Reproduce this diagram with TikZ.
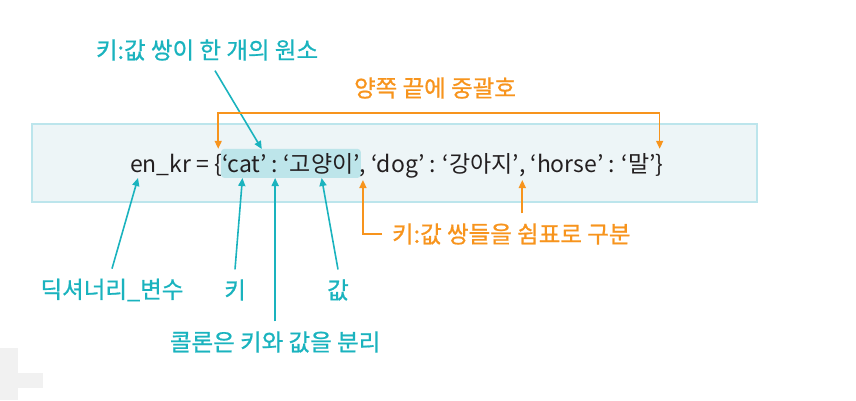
\documentclass[tikz,border=0pt]{standalone}
\usepackage{fontspec}
\setmainfont{Noto Sans CJK KR}
\newfontfamily\labelfont[FakeBold=0.8]{Noto Sans CJK KR}
\usepackage{xcolor}
\usetikzlibrary{arrows.meta, positioning, fit, backgrounds, calc}

\definecolor{tealink}{HTML}{1AB3BE}
\definecolor{orangeink}{HTML}{F7941D}
\definecolor{codeink}{HTML}{231F20}
\definecolor{boxfill}{HTML}{EDF5F7}
\definecolor{boxline}{HTML}{BCE5EC}
\definecolor{pairfill}{HTML}{BDE5EA}
\definecolor{crossgray}{HTML}{F1F1F1}

\begin{document}
\begin{tikzpicture}[
  x=1pt, y=-1pt,
  node distance=0pt,
  code/.style={inner sep=0pt, outer sep=0pt, text=codeink,
               font=\fontsize{23}{27}\selectfont},
  tealtxt/.style={text=tealink, font=\labelfont\fontsize{23.5}{28}\selectfont,
               inner sep=2pt, outer sep=8pt},
  orangetxt/.style={text=orangeink, font=\labelfont\fontsize{23.5}{28}\selectfont,
               inner sep=2pt, outer sep=8pt},
  codebox/.style={fill=boxfill, draw=boxline, line width=1.2pt},
  pairmark/.style={fill=pairfill, rounded corners=3pt, inner xsep=1pt, inner ysep=4pt},
  tealarr/.style={-{Triangle[length=8pt, width=7pt]}, line width=1.6pt, tealink},
  orangearr/.style={-{Triangle[length=8pt, width=7pt]}, line width=1.6pt, orangeink},
]
\useasboundingbox (0,0) rectangle (856,400);

% --- page decoration, bottom left ---
\fill[crossgray] (0,348) rectangle (18,400);
\fill[crossgray] (0,373) rectangle (43,388);

% --- the code line, piece by piece so the arrows can find each part ---
\node[code, anchor=base west] (var) at (130,172) {en\_kr};
\node[code, base right=of var] (eq) {\ =\ \null};
\node[code, base right=of eq] (lb) {\{};
\node[code, base right=of lb] (key) {‘cat’};
\node[code, base right=of key] (colon) {\ :\ \null};
\node[code, base right=of colon] (val) {‘고양이’};
\node[code, base right=of val] (c1) {,};
\node[code, base right=of c1] (dogpair) {\ ‘dog’ : ‘강아지’};
\node[code, base right=of dogpair] (c2) {,};
\node[code, base right=of c2] (horsepair) {\ ‘horse’ : ‘말’};
\node[code, base right=of horsepair] (rb) {\}};

% --- box round the line, and the one key:value pair marked ---
\begin{scope}[on background layer]
  \draw[codebox] (32,124) rectangle (757,202);
  \node[pairmark, fit=(key)(val)] (pair) {};
\end{scope}

% --- arrow ends on the code line ---
\coordinate (vartip) at ($(var.base west)+(8,6)$);
\coordinate (keytip) at ($(key.base)+(-2,6)$);
\coordinate (colontip) at ($(colon.base)+(0,6)$);
\coordinate (valtip) at ($(val.base)+(0,6)$);
\coordinate (c1tip) at ($(c1.base)+(0,8)$);
\coordinate (c2tip) at ($(c2.base)+(0,8)$);
\coordinate (pairtip) at ($(key.north east)+(-5,-5)$);
\coordinate (lbtip) at ($(lb.north)+(0,-5)$);
\coordinate (rbtip) at ($(rb.north)+(0,-5)$);

% --- labels ---
\node[tealtxt] (pairlbl) at (207,50) {키:값 쌍이 한 개의 원소};
\node[orangetxt] (bracelbl) at (435,88) {양쪽 끝에 중괄호};
\node[orangetxt, anchor=west] (seplbl) at (382,234) {키:값 쌍들을 쉼표로 구분};
\node[tealtxt] (dictlbl) at (112,290) {딕셔너리\_변수};
\node[tealtxt] (keylbl) at (235,290) {키};
\node[tealtxt] (vallbl) at (338,290) {값};
\node[tealtxt] (colonlbl) at (colon.base |- 0,342) {콜론은 키와 값을 분리};

% --- teal arrows ---
\draw[tealarr] ($(pairlbl.south)+(8,0)$) -- (pairtip);
\draw[tealarr] (dictlbl.north) -- (vartip);
\draw[tealarr] (keylbl.north) -- (keytip);
\draw[tealarr] (colonlbl.north) -- (colontip);
\draw[tealarr] (vallbl.north) -- (valtip);

% --- orange arrows ---
\draw[orangearr, {Triangle[length=8pt, width=7pt]}-{Triangle[length=8pt, width=7pt]}]
  (lbtip) -- ++(0,-36) -| (rbtip);
\draw[orangearr] (seplbl.west) -| (c1tip);
\draw[orangearr] (c2tip |- seplbl.north) -- (c2tip);

\end{tikzpicture}
\end{document}
